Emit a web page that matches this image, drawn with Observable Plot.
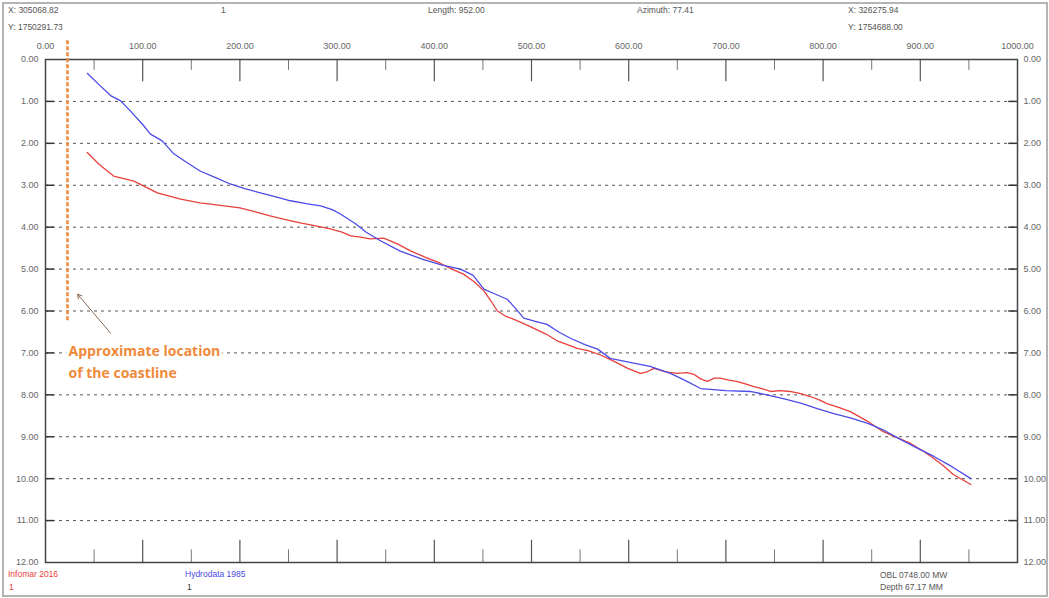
<!DOCTYPE html>
<html>
<head>
<meta charset="utf-8">
<script src="https://cdn.jsdelivr.net/npm/d3@7"></script>
<script src="https://cdn.jsdelivr.net/npm/@observablehq/plot@0.6"></script>
<style>
  html, body { margin: 0; padding: 0; background: #fff; }
  #wrap { position: relative; width: 1049px; height: 598px; overflow: hidden; font-family: "Liberation Sans", Arial, sans-serif; }
  #border { position: absolute; left: 2px; top: 2px; width: 1042px; height: 591px; border: 2px solid #b4b4b4; pointer-events: none; }
  .t { position: absolute; font-size: 8.5px; color: #555; white-space: nowrap; line-height: 10px; }
  #chart { position: absolute; left: 0; top: 0; }
</style>
</head>
<body>
<div id="wrap">
  <div id="chart"></div>
  <div id="border"></div>
  <div class="t" style="left:8px;top:5px">X: 305068.82</div>
  <div class="t" style="left:8px;top:22px">Y: 1750291.73</div>
  <div class="t" style="left:221px;top:5px">1</div>
  <div class="t" style="left:428px;top:5px">Length: 952.00</div>
  <div class="t" style="left:637px;top:5px">Azimuth: 77.41</div>
  <div class="t" style="left:848px;top:5px">X: 326275.94</div>
  <div class="t" style="left:848px;top:22px">Y: 1754688.00</div>
  <div class="t" style="left:8px;top:569px;color:#e8403c">Infomar 2016</div>
  <div class="t" style="left:9px;top:582px;color:#e8403c">1</div>
  <div class="t" style="left:185px;top:569px;color:#4b4be8">Hydrodata 1985</div>
  <div class="t" style="left:187px;top:582px;color:#333">1</div>
  <div class="t" style="left:880px;top:570px">OBL 0748.00 MW</div>
  <div class="t" style="left:880px;top:582px">Depth 67.17 MM</div>
</div>
<script>
// ---- data ----
const hydroX = [43, 55, 67, 77, 87, 100, 108, 120, 132, 145, 159, 175, 190, 205, 221, 237, 252, 268, 283, 295, 303, 311, 319, 330, 345, 365, 386, 407, 427, 440, 451, 463, 475, 484, 492, 504, 516, 528, 540, 555, 568, 581, 600, 622, 643, 660, 674, 700, 725, 742, 759, 777, 794, 811, 828, 846, 863, 880, 897, 914, 933, 952];
const hydroDepth = [0.33, 0.6, 0.86, 0.98, 1.22, 1.55, 1.78, 1.94, 2.25, 2.45, 2.66, 2.82, 2.97, 3.08, 3.18, 3.28, 3.37, 3.44, 3.49, 3.58, 3.68, 3.8, 3.92, 4.12, 4.33, 4.57, 4.75, 4.9, 5.0, 5.15, 5.48, 5.6, 5.72, 5.95, 6.17, 6.25, 6.32, 6.5, 6.65, 6.8, 6.91, 7.13, 7.22, 7.32, 7.49, 7.68, 7.85, 7.9, 7.92, 8.0, 8.09, 8.2, 8.33, 8.45, 8.55, 8.68, 8.85, 9.07, 9.27, 9.47, 9.72, 10.0];

const infomarX = [43, 55, 70, 91, 115, 139, 159, 180, 200, 215, 231, 247, 262, 278, 293, 305, 314, 324, 334, 348, 362, 376, 391, 406, 418, 430, 441, 451, 458, 465, 473, 482, 492, 502, 515, 527, 537, 547, 559, 571, 585, 599, 612, 619, 626, 638, 650, 660, 667, 674, 681, 688, 694, 703, 711, 720, 728, 737, 746, 756, 766, 777, 787, 796, 804, 816, 828, 845, 862, 876, 890, 902, 914, 924, 934, 943, 952];
const infomarDepth = [2.22, 2.5, 2.78, 2.9, 3.18, 3.33, 3.42, 3.48, 3.54, 3.63, 3.73, 3.82, 3.9, 3.97, 4.04, 4.12, 4.21, 4.24, 4.28, 4.26, 4.4, 4.57, 4.72, 4.86, 5.0, 5.12, 5.3, 5.52, 5.75, 6.0, 6.12, 6.2, 6.3, 6.41, 6.55, 6.72, 6.8, 6.89, 6.95, 7.05, 7.2, 7.37, 7.49, 7.45, 7.37, 7.45, 7.49, 7.47, 7.51, 7.62, 7.68, 7.6, 7.6, 7.65, 7.68, 7.74, 7.8, 7.85, 7.92, 7.9, 7.92, 7.97, 8.04, 8.12, 8.21, 8.3, 8.4, 8.62, 8.88, 9.02, 9.16, 9.33, 9.52, 9.7, 9.9, 10.02, 10.14];

const xTicks = [0, 100, 200, 300, 400, 500, 600, 700, 800, 900, 1000];
const xMinorTicks = [50, 150, 250, 350, 450, 550, 650, 750, 850, 950];
const xMajorInner = [100, 200, 300, 400, 500, 600, 700, 800, 900];
const yTicks = [0, 1, 2, 3, 4, 5, 6, 7, 8, 9, 10, 11, 12];
const gridDepths = [1, 2, 3, 4, 5, 6, 7, 8, 9, 10, 11];

const coastline = [{x: 22.6, top: -0.45, bottom: 6.25}];
const arrowData = [{x1: 67, y1: 6.53, x2: 33, y2: 5.6}];
const noteLines = [
  {x: 23.7, y: 6.96, text: "Approximate location"},
  {x: 23.7, y: 7.49, text: "of the coastline"}
];

const hydro = hydroX.map((x, i) => ({x, d: hydroDepth[i]}));
const infomar = infomarX.map((x, i) => ({x, d: infomarDepth[i]}));
const fmt = d => d.toFixed(2);

const plot = Plot.plot({
  width: 1049,
  height: 598,
  marginTop: 59,
  marginBottom: 36,
  marginLeft: 45,
  marginRight: 32,
  style: {fontFamily: "Liberation Sans, Arial, sans-serif", background: "transparent"},
  x: {domain: [0, 1000], label: null},
  y: {domain: [0, 12], reverse: true, label: null},
  marks: [
    Plot.ruleY(gridDepths, {stroke: "#555", strokeWidth: 1, strokeDasharray: "3,4"}),
    Plot.ruleY(gridDepths, {x1: 0, x2: 9, stroke: "#333", strokeWidth: 1.5}),
    Plot.ruleY(gridDepths, {x1: 991, x2: 1000, stroke: "#333", strokeWidth: 1.5}),
    Plot.ruleX(xMajorInner, {y1: 0, y2: 0.53, stroke: "#555", strokeWidth: 1.2}),
    Plot.ruleX(xMinorTicks, {y1: 0, y2: 0.26, stroke: "#777", strokeWidth: 1}),
    Plot.ruleX(xMajorInner, {y1: 12, y2: 11.47, stroke: "#555", strokeWidth: 1.2}),
    Plot.ruleX(xMinorTicks, {y1: 12, y2: 11.7, stroke: "#777", strokeWidth: 1}),
    Plot.frame({stroke: "#444", strokeWidth: 1.5}),
    Plot.axisX({anchor: "top", ticks: xTicks, tickFormat: fmt, tickSize: 0, tickPadding: 11, fontSize: 9, fill: "#666"}),
    Plot.axisY({anchor: "left", ticks: yTicks, tickFormat: fmt, tickSize: 0, tickPadding: 7, fontSize: 9, fill: "#666"}),
    Plot.axisY({anchor: "right", ticks: yTicks, tickFormat: fmt, tickSize: 0, tickPadding: 6, fontSize: 9, fill: "#666"}),
    Plot.ruleX(coastline, {x: "x", y1: "top", y2: "bottom", stroke: "#f0883a", strokeWidth: 2.5, strokeDasharray: "4,2"}),
    Plot.line(infomar, {x: "x", y: "d", stroke: "#e8403c", strokeWidth: 1.3}),
    Plot.line(hydro, {x: "x", y: "d", stroke: "#4b4be8", strokeWidth: 1.3}),
    Plot.arrow(arrowData, {x1: "x1", y1: "y1", x2: "x2", y2: "y2", stroke: "#8a6a55", strokeWidth: 1, headLength: 7}),
    Plot.text(noteLines, {x: "x", y: "y", text: "text", textAnchor: "start", fill: "#f08a3a", fontWeight: "bold", fontSize: 14, fontFamily: "Open Sans, sans-serif", stroke: "white", strokeWidth: 6, paintOrder: "stroke"})
  ]
});
document.getElementById("chart").appendChild(plot);
</script>
</body>
</html>
